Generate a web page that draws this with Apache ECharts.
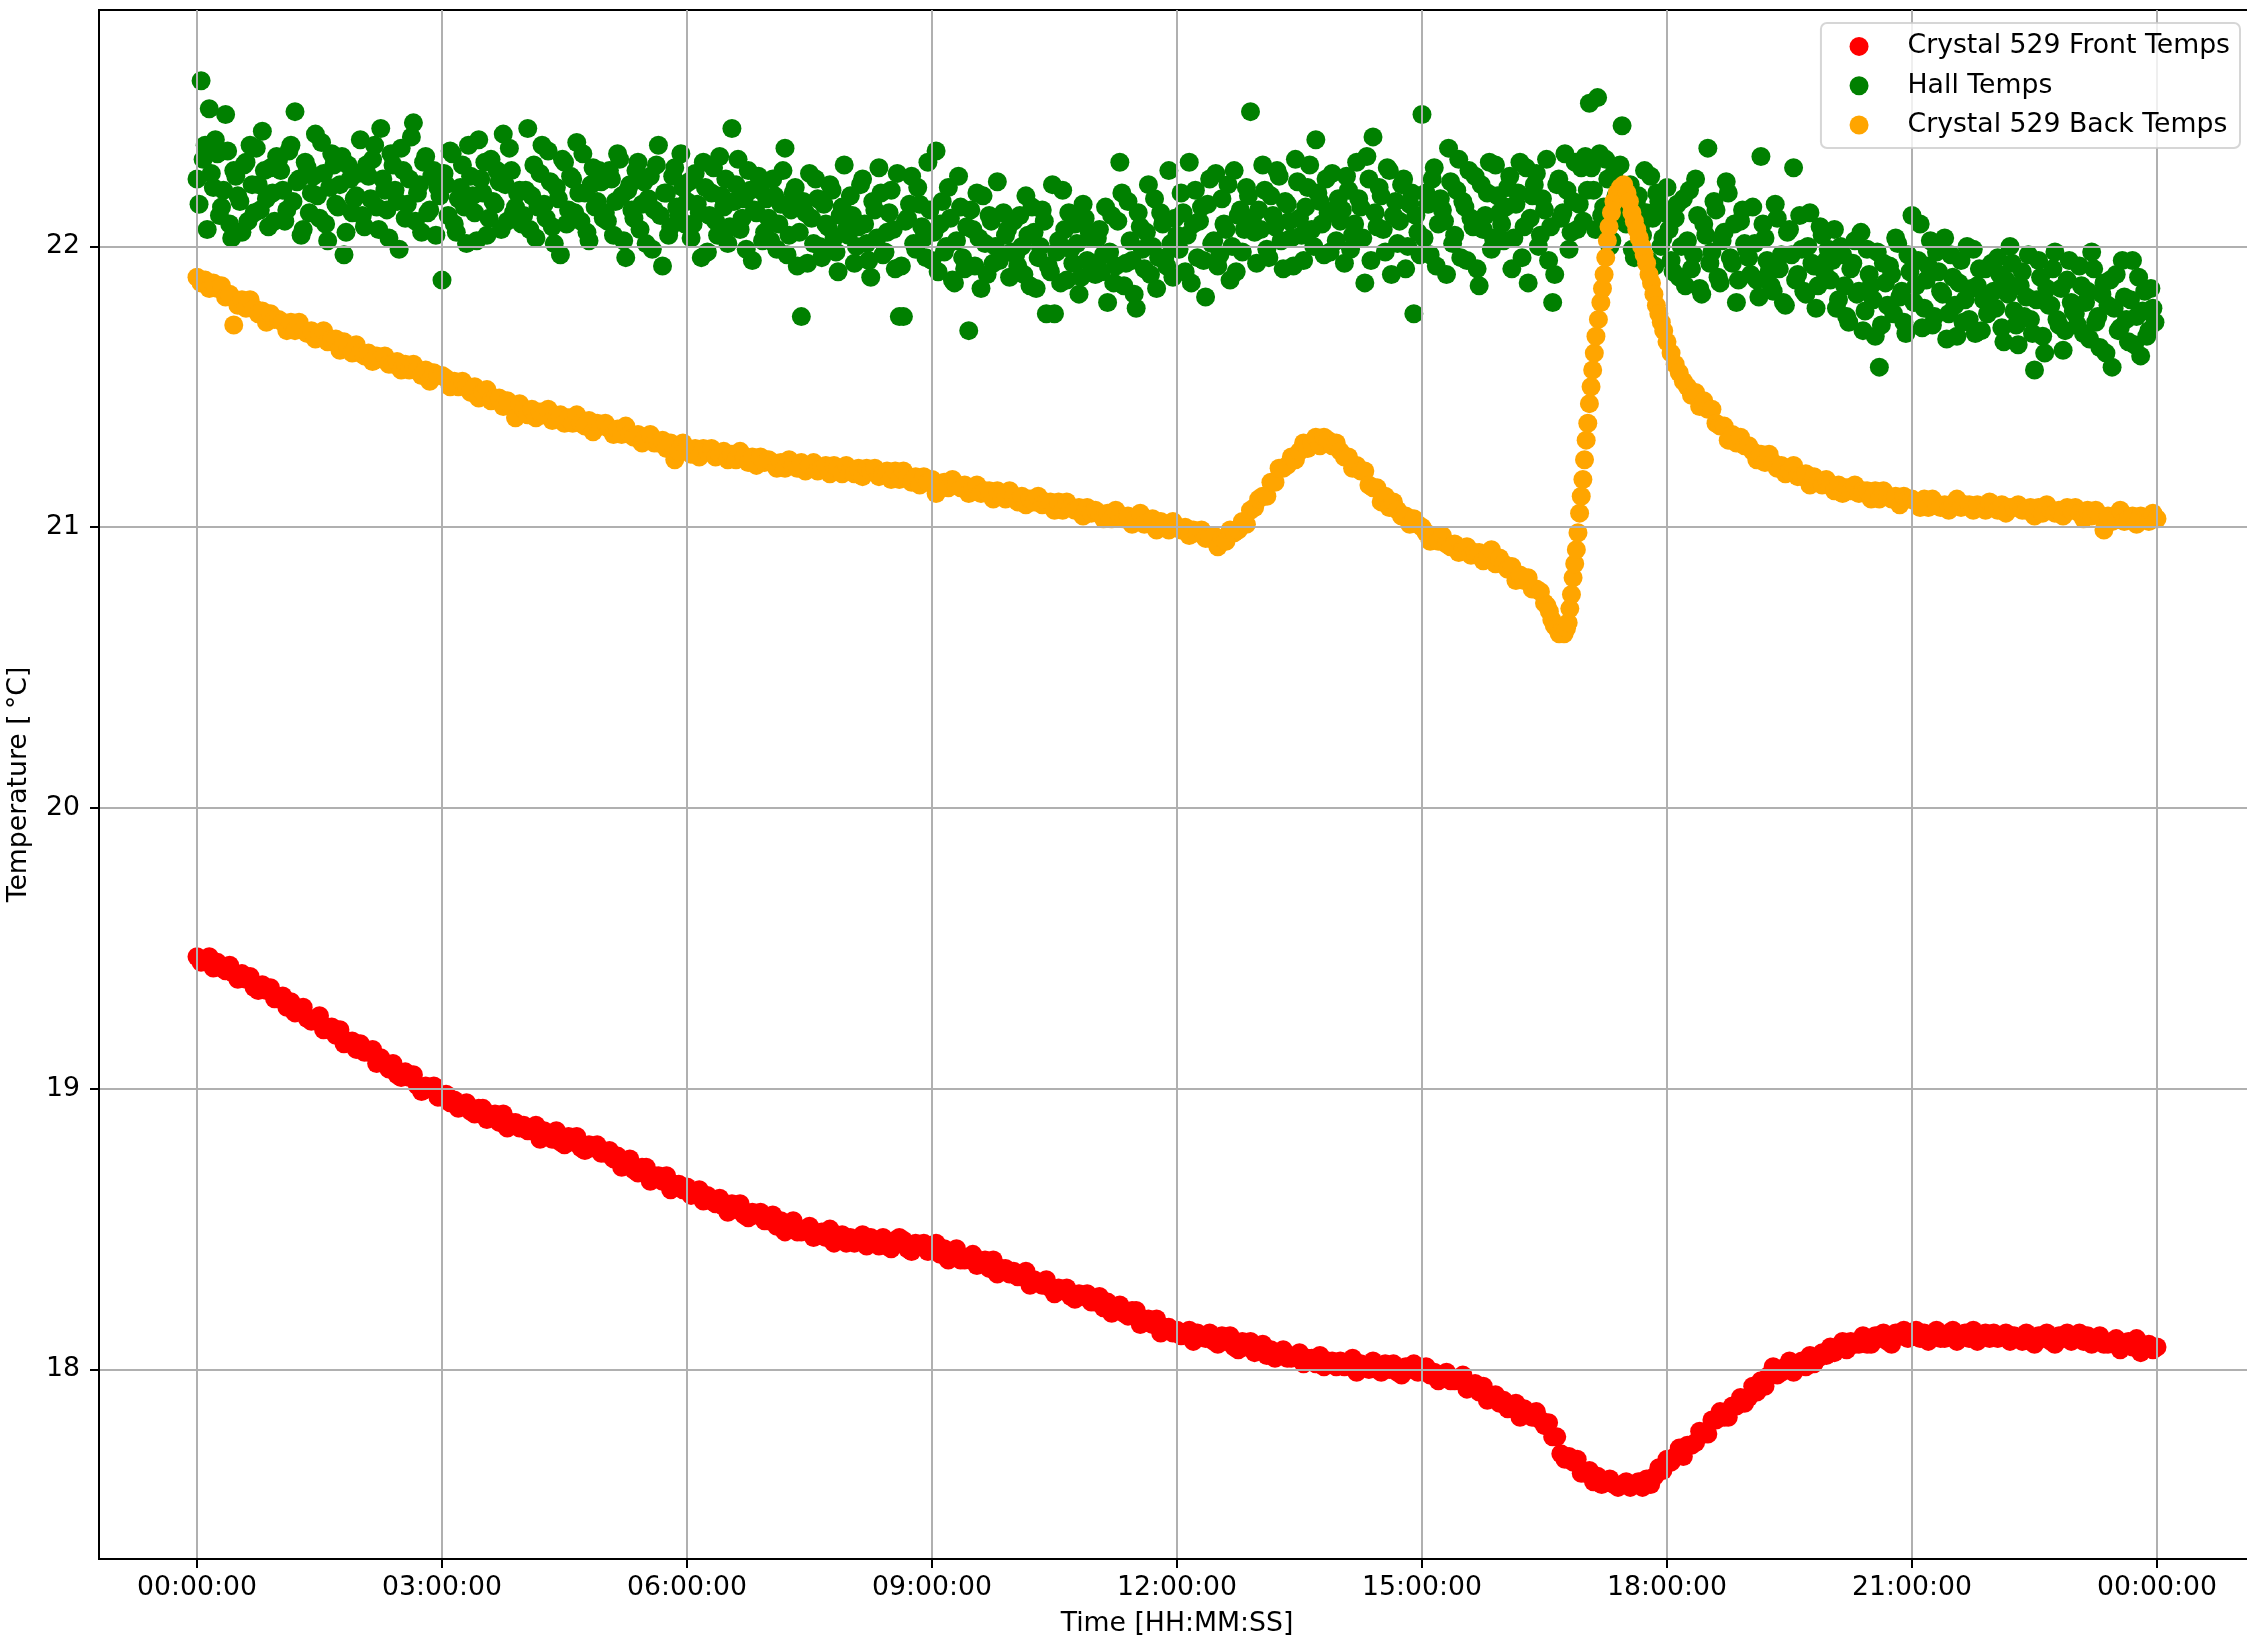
<!DOCTYPE html>
<html>
<head>
<meta charset="utf-8">
<script src="https://cdn.jsdelivr.net/npm/echarts@6/dist/echarts.min.js"></script>
<style>
  html, body { margin: 0; padding: 0; background: #ffffff; }
  #chart { width: 2247px; height: 1643px; }
</style>
</head>
<body>
<div id="chart"></div>
<script>
// Axis ticks
const hourTicks = [0, 3, 6, 9, 12, 15, 18, 21, 24];
const tempTicks = [18, 19, 20, 21, 22];

// Series names
const frontName = 'Crystal 529 Front Temps';
const hallName = 'Hall Temps';
const backName = 'Crystal 529 Back Temps';

// Crystal 529 front sensor, one reading every 0.05 h from 00:00:00 (°C), one row per hour
const frontStep = 0.05;
const frontTemps = [
  19.47, 19.45, 19.46, 19.47, 19.43, 19.45, 19.43, 19.42, 19.44, 19.41, 19.39, 19.41, 19.39, 19.40, 19.36, 19.35, 19.37, 19.35, 19.36, 19.32,
  19.32, 19.33, 19.29, 19.31, 19.27, 19.28, 19.29, 19.25, 19.24, 19.25, 19.26, 19.21, 19.22, 19.22, 19.19, 19.21, 19.16, 19.17, 19.17, 19.14,
  19.16, 19.13, 19.13, 19.14, 19.09, 19.11, 19.09, 19.07, 19.09, 19.05, 19.04, 19.06, 19.04, 19.05, 19.01, 18.99, 19.01, 19.00, 19.01, 18.97,
  18.97, 18.98, 18.95, 18.96, 18.93, 18.94, 18.95, 18.92, 18.91, 18.93, 18.93, 18.89, 18.90, 18.91, 18.88, 18.91, 18.86, 18.88, 18.88, 18.86,
  18.87, 18.85, 18.85, 18.87, 18.82, 18.85, 18.84, 18.82, 18.85, 18.81, 18.80, 18.83, 18.81, 18.83, 18.79, 18.78, 18.80, 18.79, 18.80, 18.77,
  18.77, 18.78, 18.75, 18.76, 18.72, 18.74, 18.75, 18.71, 18.70, 18.72, 18.72, 18.67, 18.69, 18.69, 18.67, 18.69, 18.64, 18.66, 18.66, 18.64,
  18.65, 18.62, 18.63, 18.64, 18.60, 18.62, 18.60, 18.59, 18.61, 18.58, 18.56, 18.59, 18.57, 18.59, 18.55, 18.54, 18.56, 18.55, 18.56, 18.53,
  18.53, 18.55, 18.51, 18.53, 18.49, 18.51, 18.53, 18.49, 18.49, 18.50, 18.51, 18.47, 18.48, 18.49, 18.47, 18.50, 18.45, 18.47, 18.48, 18.45,
  18.47, 18.45, 18.46, 18.48, 18.44, 18.47, 18.45, 18.44, 18.47, 18.44, 18.43, 18.46, 18.47, 18.46, 18.43, 18.42, 18.45, 18.44, 18.45, 18.42,
  18.43, 18.45, 18.41, 18.43, 18.39, 18.41, 18.43, 18.39, 18.39, 18.40, 18.41, 18.37, 18.38, 18.39, 18.36, 18.39, 18.34, 18.36, 18.36, 18.34,
  18.35, 18.33, 18.33, 18.35, 18.30, 18.32, 18.31, 18.30, 18.32, 18.29, 18.27, 18.29, 18.28, 18.29, 18.26, 18.25, 18.27, 18.26, 18.27, 18.24,
  18.24, 18.26, 18.22, 18.24, 18.20, 18.22, 18.23, 18.20, 18.19, 18.21, 18.21, 18.16, 18.18, 18.18, 18.16, 18.18, 18.13, 18.15, 18.15, 18.13,
  18.14, 18.12, 18.13, 18.14, 18.10, 18.13, 18.12, 18.11, 18.13, 18.10, 18.09, 18.12, 18.10, 18.12, 18.08, 18.07, 18.10, 18.08, 18.10, 18.06,
  18.07, 18.09, 18.05, 18.07, 18.04, 18.06, 18.07, 18.04, 18.04, 18.05, 18.06, 18.02, 18.04, 18.04, 18.02, 18.05, 18.01, 18.03, 18.03, 18.01,
  18.03, 18.01, 18.02, 18.04, 17.99, 18.02, 18.01, 18.00, 18.03, 18.00, 17.99, 18.02, 18.00, 18.02, 17.99, 17.98, 18.01, 18.00, 18.02, 17.99,
  18.00, 18.01, 17.98, 17.99, 17.96, 17.98, 17.99, 17.96, 17.96, 17.97, 17.98, 17.93, 17.94, 17.95, 17.92, 17.94, 17.89, 17.90, 17.91, 17.88,
  17.89, 17.86, 17.87, 17.88, 17.83, 17.86, 17.84, 17.83, 17.85, 17.82, 17.80, 17.81, 17.76, 17.76, 17.70, 17.68, 17.69, 17.67, 17.68, 17.63,
  17.63, 17.64, 17.60, 17.62, 17.59, 17.60, 17.61, 17.59, 17.58, 17.59, 17.60, 17.58, 17.59, 17.60, 17.58, 17.61, 17.59, 17.62, 17.65, 17.64,
  17.68, 17.67, 17.69, 17.72, 17.69, 17.73, 17.73, 17.74, 17.78, 17.77, 17.77, 17.82, 17.82, 17.85, 17.83, 17.83, 17.87, 17.87, 17.90, 17.88,
  17.90, 17.94, 17.92, 17.96, 17.94, 17.98, 18.01, 17.98, 17.99, 18.01, 18.03, 17.99, 18.01, 18.03, 18.01, 18.05, 18.02, 18.04, 18.06, 18.05,
  18.08, 18.06, 18.08, 18.10, 18.07, 18.10, 18.09, 18.09, 18.12, 18.09, 18.09, 18.12, 18.11, 18.13, 18.10, 18.09, 18.13, 18.12, 18.14, 18.11,
  18.12, 18.14, 18.11, 18.13, 18.10, 18.12, 18.14, 18.11, 18.11, 18.13, 18.14, 18.10, 18.12, 18.13, 18.11, 18.14, 18.10, 18.12, 18.13, 18.11,
  18.13, 18.11, 18.12, 18.13, 18.10, 18.12, 18.11, 18.10, 18.13, 18.10, 18.09, 18.12, 18.11, 18.13, 18.10, 18.09, 18.12, 18.11, 18.13, 18.10,
  18.11, 18.13, 18.10, 18.12, 18.09, 18.10, 18.12, 18.09, 18.09, 18.10, 18.11, 18.07, 18.09, 18.10, 18.08, 18.11, 18.06, 18.08, 18.09, 18.07,
  18.08
];

// Hall sensor, one reading every 0.025 h from 00:00:00 (°C), one row per hour
const hallStep = 0.025;
const hallTemps = [
  22.24, 22.15, 22.59, 22.31, 22.36, 22.06, 22.49, 22.26, 22.21, 22.38, 22.33, 22.11, 22.14, 22.20, 22.47, 22.34, 22.08, 22.03, 22.27, 22.25, 22.18, 22.16, 22.05, 22.29, 22.30, 22.09, 22.36, 22.22, 22.12, 22.35, 22.22, 22.13, 22.41, 22.27, 22.17, 22.07, 22.28, 22.19, 22.09, 22.32,
  22.31, 22.27, 22.20, 22.09, 22.13, 22.34, 22.36, 22.16, 22.48, 22.23, 22.24, 22.04, 22.06, 22.30, 22.28, 22.12, 22.19, 22.25, 22.40, 22.18, 22.10, 22.37, 22.26, 22.08, 22.02, 22.21, 22.33, 22.29, 22.15, 22.14, 22.22, 22.32, 21.97, 22.05, 22.29, 22.24, 22.12, 22.17, 22.18, 22.26,
  22.38, 22.11, 22.07, 22.29, 22.25, 22.17, 22.31, 22.36, 22.14, 22.06, 22.42, 22.24, 22.20, 22.13, 22.03, 22.33, 22.29, 22.20, 22.16, 21.99, 22.35, 22.27, 22.10, 22.15, 22.24, 22.39, 22.44, 22.09, 22.19, 22.22, 22.05, 22.30, 22.32, 22.12, 22.13, 22.25, 22.27, 22.04, 22.21, 22.18,
  21.88, 22.26, 22.22, 22.11, 22.34, 22.33, 22.08, 22.05, 22.17, 22.21, 22.29, 22.14, 22.01, 22.36, 22.25, 22.18, 22.12, 22.02, 22.38, 22.24, 22.19, 22.30, 22.04, 22.10, 22.31, 22.16, 22.15, 22.27, 22.23, 22.06, 22.40, 22.22, 22.09, 22.35, 22.27, 22.12, 22.14, 22.19, 22.20, 22.08,
  22.11, 22.20, 22.42, 22.06, 22.18, 22.29, 22.03, 22.14, 22.26, 22.36, 22.15, 22.10, 22.34, 22.23, 22.07, 22.01, 22.21, 22.17, 21.97, 22.31, 22.30, 22.08, 22.13, 22.25, 22.24, 22.12, 22.37, 22.19, 22.09, 22.33, 22.19, 22.05, 22.02, 22.22, 22.28, 22.14, 22.16, 22.27, 22.23, 22.10,
  22.12, 22.09, 22.27, 22.24, 22.04, 22.16, 22.33, 22.31, 22.18, 22.02, 21.96, 22.20, 22.22, 22.13, 22.10, 22.27, 22.30, 22.06, 22.15, 22.23, 22.01, 22.17, 22.25, 21.99, 22.13, 22.29, 22.36, 22.11, 21.93, 22.19, 22.19, 22.04, 22.07, 22.25, 22.28, 22.14, 22.11, 22.33, 22.21, 22.08,
  22.16, 22.23, 22.03, 22.08, 22.26, 22.15, 22.12, 21.96, 22.30, 22.21, 21.98, 22.11, 22.19, 22.28, 22.09, 22.04, 22.32, 22.18, 22.14, 22.24, 22.01, 22.07, 22.42, 22.16, 22.22, 22.31, 22.06, 22.10, 22.17, 21.99, 22.27, 22.20, 21.95, 22.13, 22.12, 22.25, 22.20, 22.02, 22.05, 22.17,
  22.10, 22.02, 22.24, 22.18, 21.99, 22.08, 22.15, 22.27, 22.35, 21.97, 22.04, 22.13, 22.19, 22.21, 21.93, 22.05, 21.75, 22.16, 22.12, 21.94, 22.26, 22.10, 22.01, 22.24, 22.17, 22.00, 21.96, 22.15, 22.08, 22.07, 22.22, 22.20, 22.03, 21.98, 21.91, 22.11, 22.14, 22.29, 22.06, 22.04,
  22.18, 22.11, 21.94, 22.00, 22.07, 22.22, 22.24, 22.08, 22.01, 21.95, 21.89, 22.16, 22.13, 22.03, 22.28, 22.19, 21.97, 21.98, 22.05, 22.12, 22.20, 22.06, 21.92, 22.26, 21.75, 21.93, 21.75, 22.09, 22.10, 22.15, 22.25, 22.01, 21.99, 22.21, 22.15, 22.07, 22.03, 21.96, 22.30, 22.13,
  21.95, 22.05, 22.34, 21.91, 22.08, 22.16, 21.98, 22.00, 22.21, 22.10, 21.88, 21.87, 22.02, 22.25, 22.14, 21.96, 21.92, 22.07, 21.70, 22.13, 22.06, 21.93, 22.19, 22.03, 21.85, 22.18, 22.01, 21.90, 22.11, 22.09, 21.94, 22.00, 22.23, 21.95, 21.97, 22.12, 22.04, 22.06, 21.89, 21.98,
  22.09, 21.97, 21.93, 22.11, 22.00, 21.90, 22.18, 22.04, 21.86, 22.14, 22.05, 21.85, 21.96, 22.00, 22.13, 22.09, 21.76, 21.93, 21.91, 22.22, 21.76, 21.98, 22.02, 21.87, 22.20, 22.06, 21.88, 22.12, 21.99, 21.94, 22.08, 22.01, 21.83, 21.89, 22.15, 22.10, 21.95, 22.05, 22.03, 21.92,
  21.90, 22.03, 22.06, 21.91, 21.97, 22.14, 21.80, 21.98, 22.11, 21.87, 21.93, 22.09, 22.30, 22.19, 21.86, 21.94, 22.16, 22.02, 21.95, 21.83, 21.78, 22.12, 22.07, 21.99, 21.92, 22.05, 22.22, 21.90, 22.00, 22.17, 21.85, 21.96, 22.12, 22.08, 21.96, 21.93, 22.27, 22.01, 21.89, 22.10,
  22.04, 21.99, 22.19, 22.12, 21.91, 22.04, 22.30, 21.87, 22.08, 22.20, 21.96, 22.09, 22.14, 21.95, 21.82, 22.15, 22.24, 22.01, 22.02, 22.26, 21.93, 21.97, 22.17, 22.08, 22.06, 22.22, 21.88, 22.00, 22.27, 21.91, 22.11, 22.13, 21.98, 22.06, 22.21, 22.18, 22.48, 22.10, 22.05, 21.94,
  22.13, 22.06, 22.29, 22.20, 21.99, 21.96, 22.18, 22.11, 22.07, 22.27, 22.25, 22.02, 21.92, 22.16, 22.15, 22.09, 22.03, 21.93, 22.31, 22.23, 22.10, 22.04, 21.95, 22.14, 22.21, 22.29, 22.06, 22.00, 22.38, 22.19, 22.16, 22.08, 21.97, 22.24, 22.12, 21.98, 22.26, 22.13, 22.02, 22.17,
  22.09, 22.13, 21.94, 22.25, 22.20, 21.99, 22.04, 22.08, 22.30, 22.17, 22.14, 22.03, 21.87, 22.32, 22.24, 21.95, 22.39, 22.12, 22.07, 22.21, 22.18, 22.06, 21.98, 22.28, 22.27, 21.90, 22.11, 22.16, 22.01, 22.09, 22.22, 22.24, 21.92, 22.00, 22.15, 22.19, 21.76, 22.11, 22.05, 21.97,
  22.47, 22.03, 22.19, 22.15, 21.97, 22.24, 22.28, 21.93, 22.08, 22.17, 22.13, 22.09, 21.90, 22.35, 22.23, 22.01, 22.04, 22.20, 22.31, 21.96, 22.16, 22.14, 21.95, 22.27, 22.10, 22.07, 22.25, 21.92, 21.86, 22.22, 22.06, 22.11, 22.19, 22.30, 21.99, 22.03, 22.29, 22.18, 22.12, 22.08,
  22.02, 22.14, 22.21, 22.25, 21.92, 22.03, 22.15, 22.19, 22.30, 21.96, 22.07, 22.28, 21.87, 22.10, 22.18, 22.22, 22.26, 22.00, 22.04, 22.17, 22.13, 22.31, 21.95, 22.07, 21.80, 21.90, 22.22, 22.24, 22.10, 22.12, 22.33, 22.20, 21.99, 22.05, 22.16, 22.30, 22.06, 22.15, 22.28, 22.09,
  22.32, 22.20, 22.51, 22.28, 22.20, 22.06, 22.53, 22.33, 22.11, 22.14, 22.31, 22.24, 22.00, 22.02, 22.26, 22.18, 22.15, 22.29, 22.43, 22.09, 22.08, 22.21, 22.22, 21.99, 21.96, 22.15, 22.18, 22.07, 22.04, 22.27, 22.12, 21.95, 22.25, 22.10, 21.93, 22.19, 22.16, 22.00, 22.03, 22.12,
  22.21, 22.06, 21.95, 21.91, 22.10, 22.15, 21.89, 22.00, 22.17, 21.86, 22.02, 22.20, 21.92, 21.97, 22.24, 22.11, 21.85, 21.83, 22.08, 22.04, 22.35, 21.94, 21.98, 22.16, 22.13, 21.89, 21.87, 22.02, 22.05, 22.23, 22.19, 21.96, 21.94, 22.08, 21.80, 21.88, 22.09, 22.13, 22.01, 21.99,
  21.96, 21.90, 22.14, 22.01, 21.88, 21.82, 22.32, 22.08, 22.03, 21.95, 21.91, 21.86, 21.84, 22.15, 22.10, 21.92, 21.97, 21.80, 21.79, 22.05, 22.06, 21.97, 22.28, 21.88, 21.90, 22.11, 21.99, 21.84, 21.83, 22.00, 22.12, 21.94, 21.93, 21.78, 21.86, 22.07, 22.04, 21.91, 21.95, 21.99,
  21.88, 21.95, 22.06, 21.78, 21.81, 22.00, 21.97, 21.86, 21.75, 21.73, 21.92, 21.94, 22.02, 21.83, 21.84, 22.05, 21.70, 21.77, 21.99, 21.90, 21.86, 21.81, 21.68, 21.98, 21.57, 21.72, 21.94, 21.87, 21.79, 21.93, 21.90, 21.76, 22.03, 22.01, 21.82, 21.84, 21.73, 21.69, 21.97, 21.91,
  22.11, 21.80, 21.86, 21.95, 22.08, 21.71, 21.78, 21.88, 21.93, 22.02, 21.72, 21.75, 21.98, 21.91, 21.84, 21.83, 22.03, 21.67, 21.76, 21.97, 21.89, 21.79, 21.68, 21.87, 21.95, 21.73, 21.81, 22.00, 21.74, 21.85, 21.99, 21.69, 21.86, 21.92, 21.70, 21.81, 21.92, 21.76, 21.79, 21.94,
  21.84, 21.78, 21.96, 21.90, 21.71, 21.66, 21.88, 21.83, 22.00, 21.94, 21.77, 21.72, 21.65, 21.86, 21.91, 21.75, 21.82, 21.97, 21.74, 21.69, 21.56, 21.81, 21.95, 21.89, 21.68, 21.62, 21.85, 21.79, 21.79, 21.92, 21.98, 21.74, 21.72, 21.85, 21.63, 21.70, 21.88, 21.95, 21.80, 21.77,
  21.76, 21.72, 21.93, 21.86, 21.69, 21.80, 21.84, 21.67, 21.98, 21.92, 21.73, 21.75, 21.64, 21.83, 21.87, 21.62, 21.79, 21.88, 21.57, 21.78, 21.90, 21.70, 21.71, 21.95, 21.82, 21.74, 21.66, 21.81, 21.95, 21.65, 21.75, 21.89, 21.61, 21.77, 21.84, 21.68, 21.70, 21.85, 21.78, 21.73
];

// Crystal 529 back sensor as [hour, °C]; readings are denser through the 17 h spike
const backTemps = [
  [0.00, 21.89], [0.05, 21.87], [0.10, 21.88], [0.15, 21.85], [0.20, 21.87], [0.25, 21.85], [0.30, 21.86], [0.35, 21.82], [0.40, 21.83], [0.45, 21.72],
  [0.50, 21.79], [0.55, 21.81], [0.60, 21.78], [0.65, 21.81], [0.70, 21.78], [0.75, 21.76], [0.80, 21.77], [0.85, 21.73], [0.90, 21.76], [0.95, 21.74],
  [1.00, 21.74], [1.05, 21.73], [1.10, 21.70], [1.15, 21.73], [1.20, 21.70], [1.25, 21.73], [1.30, 21.70], [1.35, 21.69], [1.40, 21.70], [1.45, 21.67],
  [1.50, 21.69], [1.55, 21.70], [1.60, 21.66], [1.65, 21.67], [1.70, 21.67], [1.75, 21.63], [1.80, 21.66], [1.85, 21.64], [1.90, 21.62], [1.95, 21.65],
  [2.00, 21.62], [2.05, 21.61], [2.10, 21.62], [2.15, 21.59], [2.20, 21.61], [2.25, 21.60], [2.30, 21.61], [2.35, 21.58], [2.40, 21.58], [2.45, 21.59],
  [2.50, 21.56], [2.55, 21.58], [2.60, 21.56], [2.65, 21.58], [2.70, 21.56], [2.75, 21.54], [2.80, 21.56], [2.85, 21.52], [2.90, 21.55], [2.95, 21.54],
  [3.00, 21.54], [3.05, 21.53], [3.10, 21.50], [3.15, 21.52], [3.20, 21.50], [3.25, 21.52], [3.30, 21.50], [3.35, 21.48], [3.40, 21.50], [3.45, 21.46],
  [3.50, 21.48], [3.55, 21.49], [3.60, 21.45], [3.65, 21.46], [3.70, 21.46], [3.75, 21.43], [3.80, 21.45], [3.85, 21.43], [3.90, 21.39], [3.95, 21.44],
  [4.00, 21.42], [4.05, 21.40], [4.10, 21.42], [4.15, 21.39], [4.20, 21.41], [4.25, 21.40], [4.30, 21.42], [4.35, 21.38], [4.40, 21.39], [4.45, 21.40],
  [4.50, 21.37], [4.55, 21.39], [4.60, 21.37], [4.65, 21.40], [4.70, 21.37], [4.75, 21.36], [4.80, 21.38], [4.85, 21.34], [4.90, 21.37], [4.95, 21.36],
  [5.00, 21.37], [5.05, 21.35], [5.10, 21.33], [5.15, 21.35], [5.20, 21.33], [5.25, 21.36], [5.30, 21.33], [5.35, 21.32], [5.40, 21.33], [5.45, 21.30],
  [5.50, 21.32], [5.55, 21.33], [5.60, 21.30], [5.65, 21.30], [5.70, 21.31], [5.75, 21.28], [5.80, 21.30], [5.85, 21.24], [5.90, 21.27], [5.95, 21.30],
  [6.00, 21.28], [6.05, 21.26], [6.10, 21.28], [6.15, 21.25], [6.20, 21.28], [6.25, 21.27], [6.30, 21.28], [6.35, 21.25], [6.40, 21.26], [6.45, 21.27],
  [6.50, 21.24], [6.55, 21.26], [6.60, 21.24], [6.65, 21.27], [6.70, 21.25], [6.75, 21.23], [6.80, 21.25], [6.85, 21.22], [6.90, 21.25], [6.95, 21.23],
  [7.00, 21.24], [7.05, 21.23], [7.10, 21.21], [7.15, 21.23], [7.20, 21.21], [7.25, 21.24], [7.30, 21.22], [7.35, 21.21], [7.40, 21.23], [7.45, 21.20],
  [7.50, 21.22], [7.55, 21.23], [7.60, 21.20], [7.65, 21.21], [7.70, 21.22], [7.75, 21.19], [7.80, 21.22], [7.85, 21.21], [7.90, 21.19], [7.95, 21.22],
  [8.00, 21.20], [8.05, 21.19], [8.10, 21.21], [8.15, 21.18], [8.20, 21.21], [8.25, 21.20], [8.30, 21.21], [8.35, 21.18], [8.40, 21.19], [8.45, 21.20],
  [8.50, 21.17], [8.55, 21.20], [8.60, 21.17], [8.65, 21.20], [8.70, 21.18], [8.75, 21.16], [8.80, 21.18], [8.85, 21.15], [8.90, 21.18], [8.95, 21.16],
  [9.00, 21.17], [9.05, 21.12], [9.10, 21.14], [9.15, 21.16], [9.20, 21.14], [9.25, 21.17], [9.30, 21.15], [9.35, 21.14], [9.40, 21.15], [9.45, 21.12],
  [9.50, 21.14], [9.55, 21.15], [9.60, 21.12], [9.65, 21.13], [9.70, 21.13], [9.75, 21.10], [9.80, 21.13], [9.85, 21.11], [9.90, 21.10], [9.95, 21.13],
  [10.00, 21.11], [10.05, 21.09], [10.10, 21.11], [10.15, 21.08], [10.20, 21.10], [10.25, 21.09], [10.30, 21.11], [10.35, 21.08], [10.40, 21.09], [10.45, 21.09],
  [10.50, 21.06], [10.55, 21.09], [10.60, 21.06], [10.65, 21.09], [10.70, 21.07], [10.75, 21.06], [10.80, 21.07], [10.85, 21.04], [10.90, 21.07], [10.95, 21.05],
  [11.00, 21.06], [11.05, 21.05], [11.10, 21.03], [11.15, 21.05], [11.20, 21.03], [11.25, 21.06], [11.30, 21.04], [11.35, 21.03], [11.40, 21.04], [11.45, 21.01],
  [11.50, 21.03], [11.55, 21.05], [11.60, 21.01], [11.65, 21.02], [11.70, 21.03], [11.75, 20.99], [11.80, 21.02], [11.85, 21.01], [11.90, 20.99], [11.95, 21.02],
  [12.00, 21.00], [12.05, 20.99], [12.10, 21.00], [12.15, 20.97], [12.20, 20.99], [12.25, 20.98], [12.30, 20.99], [12.35, 20.96], [12.40, 20.96], [12.45, 20.97],
  [12.50, 20.93], [12.55, 20.96], [12.60, 20.95], [12.65, 20.99], [12.70, 20.98], [12.75, 20.99], [12.80, 21.02], [12.85, 21.01], [12.90, 21.06], [12.95, 21.07],
  [13.00, 21.10], [13.05, 21.11], [13.10, 21.11], [13.15, 21.16], [13.20, 21.16], [13.25, 21.21], [13.30, 21.21], [13.35, 21.22], [13.40, 21.25], [13.45, 21.24],
  [13.50, 21.27], [13.55, 21.30], [13.60, 21.28], [13.65, 21.30], [13.70, 21.32], [13.75, 21.29], [13.80, 21.32], [13.85, 21.31], [13.90, 21.29], [13.95, 21.30],
  [14.00, 21.27], [14.05, 21.25], [14.10, 21.25], [14.15, 21.21], [14.20, 21.22], [14.25, 21.20], [14.30, 21.20], [14.35, 21.15], [14.40, 21.14], [14.45, 21.14],
  [14.50, 21.09], [14.55, 21.11], [14.60, 21.07], [14.65, 21.09], [14.70, 21.06], [14.75, 21.04], [14.80, 21.04], [14.85, 21.01], [14.90, 21.03], [14.95, 21.01],
  [15.00, 21.00], [15.05, 20.98], [15.10, 20.95], [15.15, 20.97], [15.20, 20.95], [15.25, 20.97], [15.30, 20.94], [15.35, 20.93], [15.40, 20.94], [15.45, 20.91],
  [15.50, 20.92], [15.55, 20.93], [15.60, 20.90], [15.65, 20.91], [15.70, 20.91], [15.75, 20.88], [15.80, 20.89], [15.85, 20.92], [15.90, 20.87], [15.95, 20.89],
  [16.00, 20.87], [16.05, 20.85], [16.10, 20.86], [16.15, 20.81], [16.20, 20.83], [16.25, 20.81], [16.30, 20.82], [16.35, 20.78], [16.40, 20.78], [16.45, 20.77],
  [16.50, 20.73], [16.53, 20.72], [16.56, 20.70], [16.59, 20.67], [16.62, 20.65], [16.65, 20.64], [16.68, 20.62], [16.71, 20.63], [16.74, 20.62], [16.77, 20.64],
  [16.79, 20.66], [16.81, 20.71], [16.83, 20.76], [16.85, 20.82], [16.87, 20.87], [16.89, 20.92], [16.91, 20.98], [16.93, 21.05], [16.95, 21.11], [16.97, 21.17],
  [16.99, 21.24], [17.01, 21.31], [17.03, 21.37], [17.05, 21.44], [17.07, 21.50], [17.09, 21.56], [17.11, 21.62], [17.13, 21.68], [17.16, 21.74], [17.19, 21.80],
  [17.21, 21.85], [17.23, 21.90], [17.25, 21.96], [17.27, 22.02], [17.29, 22.07], [17.32, 22.12], [17.35, 22.16], [17.39, 22.19], [17.43, 22.21], [17.47, 22.22],
  [17.51, 22.19], [17.54, 22.16], [17.57, 22.12], [17.60, 22.09], [17.63, 22.06], [17.66, 22.03], [17.69, 22.00], [17.72, 21.97], [17.75, 21.94], [17.78, 21.90],
  [17.81, 21.87], [17.84, 21.83], [17.87, 21.79], [17.90, 21.76], [17.93, 21.73], [17.96, 21.70], [18.00, 21.66], [18.05, 21.62], [18.10, 21.58], [18.15, 21.55],
  [18.20, 21.52], [18.25, 21.50], [18.30, 21.47], [18.35, 21.48], [18.40, 21.43], [18.45, 21.45], [18.50, 21.42], [18.55, 21.42], [18.60, 21.37], [18.65, 21.36],
  [18.70, 21.36], [18.75, 21.31], [18.80, 21.33], [18.85, 21.30], [18.90, 21.32], [18.95, 21.29],
  [19.00, 21.29], [19.05, 21.27], [19.10, 21.24], [19.15, 21.26], [19.20, 21.23], [19.25, 21.26], [19.30, 21.23], [19.35, 21.21], [19.40, 21.22], [19.45, 21.19],
  [19.50, 21.20], [19.55, 21.22], [19.60, 21.18], [19.65, 21.18], [19.70, 21.19], [19.75, 21.15], [19.80, 21.18], [19.85, 21.16], [19.90, 21.15], [19.95, 21.17],
  [20.00, 21.15], [20.05, 21.13], [20.10, 21.15], [20.15, 21.12], [20.20, 21.14], [20.25, 21.13], [20.30, 21.15], [20.35, 21.12], [20.40, 21.13], [20.45, 21.13],
  [20.50, 21.10], [20.55, 21.13], [20.60, 21.10], [20.65, 21.13], [20.70, 21.11], [20.75, 21.10], [20.80, 21.11], [20.85, 21.08], [20.90, 21.11], [20.95, 21.10],
  [21.00, 21.10], [21.05, 21.09], [21.10, 21.07], [21.15, 21.10], [21.20, 21.07], [21.25, 21.10], [21.30, 21.08], [21.35, 21.07], [21.40, 21.08], [21.45, 21.06],
  [21.50, 21.08], [21.55, 21.10], [21.60, 21.07], [21.65, 21.08], [21.70, 21.08], [21.75, 21.06], [21.80, 21.08], [21.85, 21.07], [21.90, 21.06], [21.95, 21.09],
  [22.00, 21.07], [22.05, 21.06], [22.10, 21.08], [22.15, 21.05], [22.20, 21.07], [22.25, 21.07], [22.30, 21.08], [22.35, 21.06], [22.40, 21.06], [22.45, 21.07],
  [22.50, 21.04], [22.55, 21.07], [22.60, 21.05], [22.65, 21.08], [22.70, 21.06], [22.75, 21.05], [22.80, 21.06], [22.85, 21.04], [22.90, 21.07], [22.95, 21.06],
  [23.00, 21.07], [23.05, 21.05], [23.10, 21.03], [23.15, 21.06], [23.20, 21.04], [23.25, 21.06], [23.30, 21.04], [23.35, 20.99], [23.40, 21.04], [23.45, 21.02],
  [23.50, 21.03], [23.55, 21.06], [23.60, 21.02], [23.65, 21.03], [23.70, 21.04], [23.75, 21.01], [23.80, 21.04], [23.85, 21.03], [23.90, 21.02], [23.95, 21.05],
  [24.00, 21.03]
];

const FONT = 'DejaVu Sans';
const TEXT = { fontFamily: FONT, fontSize: 26.7, color: '#000000' };
const DOT = 19;

const frontPoints = frontTemps.map((v, i) => [+(i * frontStep).toFixed(3), v]);
const hallPoints = hallTemps.map((v, i) => [+(i * hallStep).toFixed(3), v]);

function hourLabel(v) {
  const h = ((Math.round(v) % 24) + 24) % 24;
  return String(h).padStart(2, '0') + ':00:00';
}

const chart = echarts.init(document.getElementById('chart'), null, {
  renderer: 'canvas', width: 2247, height: 1643
});

chart.setOption({
  animation: false,
  backgroundColor: '#ffffff',
  textStyle: { fontFamily: FONT },
  grid: {
    left: 99, top: 10, right: -8, bottom: 84,
    show: true, borderColor: '#000000', borderWidth: 2,
    backgroundColor: 'transparent',
    containLabel: false, outerBoundsMode: 'none'
  },
  legend: {
    data: [frontName, hallName, backName],
    orient: 'vertical',
    right: 7, top: 23,
    icon: 'circle',
    itemWidth: DOT, itemHeight: DOT, itemGap: 9.3,
    padding: [8.4, 10, 8, 28.6],
    backgroundColor: 'rgba(255,255,255,0.8)',
    borderColor: 'rgba(204,204,204,0.8)',
    borderWidth: 2, borderRadius: 6,
    selectedMode: false,
    itemStyle: { opacity: 1 },
    textStyle: Object.assign({}, TEXT, { lineHeight: 30, padding: [0, 0, 0, 34] })
  },
  xAxis: {
    type: 'value',
    min: -1.2, max: 25.2,
    splitNumber: 9, minInterval: 3, maxInterval: 3,
    z: 3,
    name: 'Time [HH:MM:SS]',
    nameLocation: 'middle', nameGap: 52,
    nameTextStyle: TEXT,
    axisLine: { onZero: false, lineStyle: { color: '#000000', width: 2 } },
    axisTick: { customValues: hourTicks, length: 9, lineStyle: { color: '#000000', width: 2 } },
    axisLabel: Object.assign({ customValues: hourTicks, formatter: hourLabel, margin: 16 }, TEXT),
    splitLine: { show: true, lineStyle: { color: '#b0b0b0', width: 2 } }
  },
  yAxis: {
    type: 'value',
    min: 17.325, max: 22.842,
    splitNumber: 5, minInterval: 1, maxInterval: 1,
    z: 3,
    name: 'Temperature [\u2009°C]',
    nameLocation: 'middle', nameGap: 66,
    nameTextStyle: TEXT,
    axisLine: { onZero: false, lineStyle: { color: '#000000', width: 2 } },
    axisTick: { customValues: tempTicks, length: 9, lineStyle: { color: '#000000', width: 2 } },
    axisLabel: Object.assign({ customValues: tempTicks, margin: 19 }, TEXT),
    splitLine: { show: true, lineStyle: { color: '#b0b0b0', width: 2 } }
  },
  series: [
    { name: frontName, type: 'scatter', data: frontPoints, symbolSize: DOT, itemStyle: { color: '#ff0000', opacity: 1 }, z: 2 },
    { name: hallName, type: 'scatter', data: hallPoints, symbolSize: DOT, itemStyle: { color: '#008000', opacity: 1 }, z: 2 },
    { name: backName, type: 'scatter', data: backTemps, symbolSize: DOT, itemStyle: { color: '#ffa500', opacity: 1 }, z: 2 }
  ]
});
</script>
</body>
</html>
